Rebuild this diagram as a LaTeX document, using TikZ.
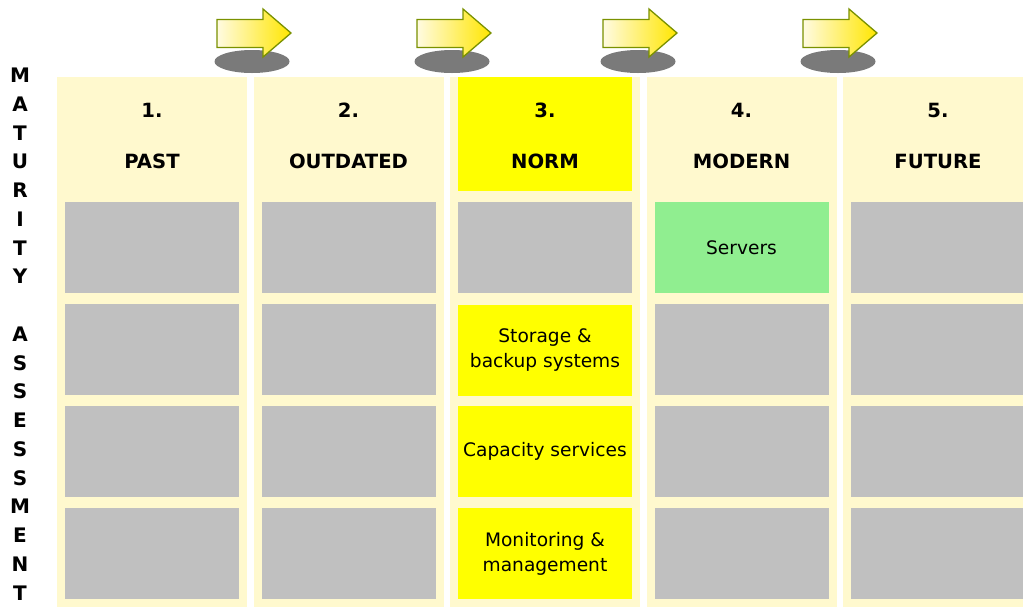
\documentclass[tikz,border=0pt]{standalone}
\usepackage{fontspec}
\setmainfont{DejaVu Sans}
\definecolor{colbg}{RGB}{255,249,206}
\definecolor{cellgray}{RGB}{192,192,192}
\definecolor{normyellow}{RGB}{255,255,0}
\definecolor{modgreen}{RGB}{144,238,144}
\definecolor{arrowline}{RGB}{122,145,0}
\definecolor{arrowpale}{RGB}{255,251,225}
\definecolor{arrowgold}{RGB}{255,196,40}
\definecolor{arrowyellow}{RGB}{255,230,0}
\definecolor{shadowgray}{RGB}{122,122,122}
\begin{document}
\begin{tikzpicture}[x=1pt,y=-1pt,
  colbox/.style={fill=colbg,minimum width=190pt,minimum height=535pt,inner sep=0pt,outer sep=0pt},
  cell/.style={fill=cellgray,minimum width=174pt,minimum height=91pt,inner sep=0pt,outer sep=0pt,
    align=center,font=\fontsize{18.6}{25}\selectfont},
  headtxt/.style={font=\fontsize{19.6}{23}\selectfont\bfseries,anchor=base},
  sidetxt/.style={font=\fontsize{20}{23}\selectfont\bfseries,anchor=base},
  arrowbody/.style={draw=arrowline,line width=1.3pt,line join=miter,
    left color=arrowpale,middle color=arrowgold,right color=arrowyellow},
  shadowblob/.style={fill=shadowgray}]
  \useasboundingbox (0,0) rectangle (1023,606);
  \clip (0,0) rectangle (1023,606);

  % columns with their headings
  \foreach \i/\x in {1/152,2/348.5,3/545,4/741.5,5/938}{
    \node[colbox] (col-\i) at (\x,344.5) {};
  }
  \node[cell,fill=normyellow,minimum height=114pt] (head-3) at (545,134) {};
  \foreach \i/\x/\num/\name in {1/152/1./PAST,2/348.5/2./OUTDATED,3/545/3./NORM,4/741.5/4./MODERN,5/938/5./FUTURE}{
    \node[headtxt] (num-\i) at (\x,117) {\num};
    \node[headtxt] (name-\i) at (\x,168) {\name};
  }

  % empty cells
  \foreach \c in {1,2,5}
    \foreach \r in {1,...,4}
      \node[cell] (c\c-r\r) at ({152+196.5*(\c-1)},{247.5+102*(\r-1)}) {};
  \node[cell] (c3-r1) at (545,247.5) {};
  \foreach \r in {2,3,4}
    \node[cell] (c4-r\r) at (741.5,{247.5+102*(\r-1)}) {};

  % filled cells
  \node[cell,fill=modgreen] (c4-r1) at (741.5,247.5) {Servers};
  \node[cell,fill=normyellow] (c3-r2) at (545,350) {Storage \&\\backup systems};
  \node[cell,fill=normyellow] (c3-r3) at (545,451.5) {Capacity services};
  \node[cell,fill=normyellow] (c3-r4) at (545,553.5) {Monitoring \&\\management};

  % side title
  \foreach \ch [count=\k from 0] in {M,A,T,U,R,I,T,Y}
    \node[sidetxt] (side-\k) at (20,{82.5+28.75*\k}) {\ch};
  \foreach \ch [count=\k from 9] in {A,S,S,E,S,S,M,E,N,T}
    \node[sidetxt] (side-\k) at (20,{82.5+28.75*\k}) {\ch};

  % arrows between the stages
  \foreach \ax in {217,417,603,803}{
    \fill[shadowblob] (\ax+35,61.5) ellipse [x radius=37.5,y radius=11.5];
    \draw[arrowbody] (\ax,19.5) -- (\ax+46,19.5) -- (\ax+46,9) -- (\ax+74,33)
      -- (\ax+46,57) -- (\ax+46,47.5) -- (\ax,47.5) -- cycle;
  }
\end{tikzpicture}
\end{document}
